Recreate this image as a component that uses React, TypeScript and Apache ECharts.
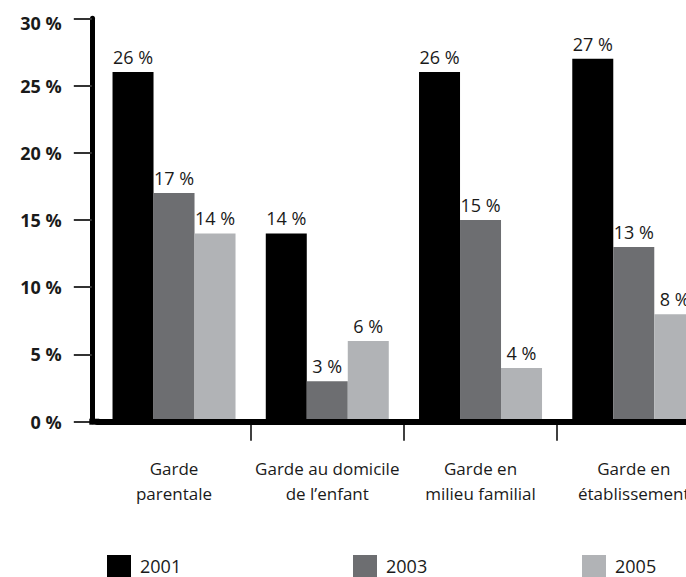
import React, { useEffect, useRef } from "react";
import * as echarts from "echarts";

const categories = [
  "Garde\nparentale",
  "Garde au domicile\nde l’enfant",
  "Garde en\nmilieu familial",
  "Garde en\nétablissement",
];
const seriesNames = ["2001", "2003", "2005"];
const values2001 = [26, 14, 26, 27];
const values2003 = [17, 3, 15, 13];
const values2005 = [14, 6, 4, 8];
const colors = ["#000000", "#6d6e71", "#b1b3b6"];

const FONT = "'Open Sans', 'Noto Sans', sans-serif";

export default function App() {
  const ref = useRef<HTMLDivElement>(null);
  useEffect(() => {
    if (!ref.current) return;
    const chart = echarts.init(ref.current, null, { renderer: "svg" });
    const allValues = [values2001, values2003, values2005];
    const legendLefts = [107, 353, 582];
    chart.setOption({
      animation: false,
      backgroundColor: "#ffffff",
      grid: { left: 97.4, right: 9.6, top: 18.3, bottom: 155.3, containLabel: false },
      xAxis: {
        type: "category",
        data: categories,
        z: 5,
        axisLine: { show: true, lineStyle: { color: "#000", width: 6 } },
        axisTick: {
          show: true,
          length: 19,
          interval: (index: number) => index > 0,
          lineStyle: { color: "#000", width: 1.5 },
        },
        axisLabel: {
          margin: 34,
          fontFamily: FONT,
          fontSize: 17,
          lineHeight: 25,
          color: "#1a1a1a",
          interval: 0,
          align: "center",
        },
        splitLine: { show: false },
      },
      yAxis: {
        type: "value",
        min: 0,
        max: 30,
        interval: 5,
        offset: 5.6,
        axisLine: { show: true, lineStyle: { color: "#000", width: 5 } },
        axisTick: { show: true, length: 18, lineStyle: { color: "#333", width: 2 } },
        axisLabel: {
          margin: 30,
          fontFamily: FONT,
          fontSize: 18,
          fontWeight: "bold",
          color: "#1a1a1a",
          formatter: (v: number) => (v === 30 ? "{top|" + v + " %}" : v + " %"),
          rich: {
            top: {
              fontFamily: FONT,
              fontSize: 18,
              fontWeight: "bold",
              color: "#1a1a1a",
              padding: [9, 0, 0, 0],
            },
          },
        },
        splitLine: { show: false },
      },
      legend: seriesNames.map((name, i) => ({
        data: [name],
        left: legendLefts[i],
        top: 555,
        padding: 0,
        itemWidth: 24,
        itemHeight: 22,
        icon: "rect",
        selectedMode: false,
        textStyle: { fontFamily: FONT, fontSize: 18, color: "#1a1a1a", padding: [0, 0, 0, 4] },
      })),
      graphic: [
        {
          type: "rect",
          shape: { x: 89.3, y: 418.7, width: 10, height: 6 },
          style: { fill: "#000" },
          z: 10,
        },
      ],
      series: seriesNames.map((name, i) => ({
        name,
        type: "bar",
        data: allValues[i],
        barWidth: 41,
        barGap: "0%",
        itemStyle: { color: colors[i] },
        label: {
          show: true,
          position: "top",
          distance: 6,
          formatter: "{c} %",
          fontFamily: FONT,
          fontSize: 18,
          color: "#1a1a1a",
        },
      })),
    });
    return () => chart.dispose();
  }, []);
  return (
    <div
      ref={ref}
      style={{ position: "fixed", left: 0, top: 0, width: 720, height: 577 }}
    />
  );
}
